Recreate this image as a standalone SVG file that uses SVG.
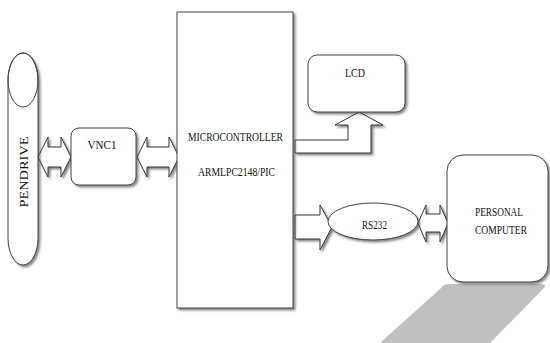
<svg xmlns="http://www.w3.org/2000/svg" width="550" height="343" viewBox="0 0 550 343">
<defs>
<filter id="sh" x="-10%" y="-10%" width="130%" height="130%">
<feDropShadow dx="2" dy="2" stdDeviation="0.8" flood-color="#555" flood-opacity="0.7"/>
</filter>
</defs>
<style>
.box{fill:#fff;stroke:#444;stroke-width:1;filter:url(#sh)}
.arr{fill:#fff;stroke:#333;stroke-width:1;stroke-linejoin:miter;filter:url(#sh)}
.t{font-family:"Liberation Serif","Times New Roman",serif;font-size:12px;fill:#111;text-anchor:middle}
</style>
<rect width="550" height="343" fill="#fff"/>
<path d="M445,284 L541,284 Q548,284 543,289 L490,343 L380,343 L441,288 Q444,284 449,284 Z" fill="#c0c0c0"/>
<g id="connectors">
<polygon class="arr" points="38,157 48,137 48,147 61,147 61,137 71,157 61,177 61,167 48,167 48,177"/>
<polygon class="arr" points="137,157 147,137 147,147 169,147 169,137 179,157 169,177 169,167 147,167 147,177"/>
<polygon class="arr" points="295,140 348,140 348,125 335,125 359,112 383,125 371,125 371,153 295,153"/>
<polygon class="arr" points="295,215 320,215 320,205 332,227 320,250 320,239 295,239"/>
<polygon class="arr" points="418,223 426,205 426,214 440,214 440,205 448,223 440,242 440,232 426,232 426,242"/>
</g>
<g id="pendrive">
<path class="box" d="M8,80 A15,27 0 0 1 38,80 L38,238 A15,27 0 0 1 8,238 Z"/>
<ellipse cx="23" cy="80" rx="15" ry="27" fill="none" stroke="#444"/>
<text class="t" transform="translate(28,172) rotate(-90)" textLength="71" lengthAdjust="spacingAndGlyphs">PENDRIVE</text>
</g>
<g id="vnc1">
<rect class="box" x="71" y="128" width="65" height="57" rx="8"/>
<text class="t" x="102" y="149" textLength="29" lengthAdjust="spacingAndGlyphs">VNC1</text>
</g>
<g id="mcu">
<rect class="box" x="177" y="12" width="116" height="296"/>
<text class="t" x="235.500" y="141" textLength="95" lengthAdjust="spacingAndGlyphs">MICROCONTROLLER</text>
<text class="t" x="236.500" y="176" textLength="77" lengthAdjust="spacingAndGlyphs">ARMLPC2148/PIC</text>
</g>
<g id="lcd">
<rect class="box" x="308" y="55" width="97" height="57" rx="9"/>
<text class="t" x="355" y="77" textLength="20" lengthAdjust="spacingAndGlyphs">LCD</text>
</g>
<g id="rs232">
<ellipse class="box" cx="373" cy="221.500" rx="45" ry="18.500"/>
<text class="t" x="374.500" y="229" textLength="25" lengthAdjust="spacingAndGlyphs">RS232</text>
</g>
<g id="pc">
<rect class="box" x="447" y="155" width="101" height="127" rx="16"/>
<text class="t" x="499" y="216" textLength="48" lengthAdjust="spacingAndGlyphs">PERSONAL</text>
<text class="t" x="501" y="234" textLength="52" lengthAdjust="spacingAndGlyphs">COMPUTER</text>
</g>
</svg>
